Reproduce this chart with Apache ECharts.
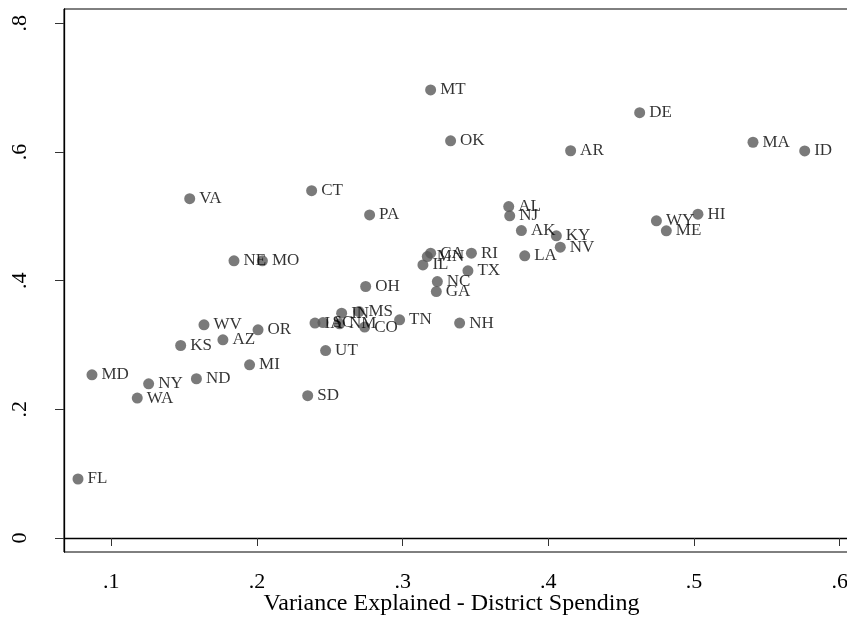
<!DOCTYPE html>
<html>
<head>
<meta charset="utf-8">
<script src="https://cdn.jsdelivr.net/npm/echarts@6/dist/echarts.min.js"></script>
<style>
  html, body { margin: 0; padding: 0; background: #fff; }
  #chart { width: 847px; height: 617px; }
</style>
</head>
<body>
<div id="chart"></div>
<script>
// state abbreviations and the values
const states = ['FL', 'MD', 'NY', 'WA', 'ND', 'MI', 'KS', 'AZ', 'WV', 'OR',
  'UT', 'SD', 'NE', 'MO', 'VA', 'CT', 'PA', 'OH', 'MT', 'OK',
  'DE', 'AR', 'MA', 'ID', 'HI', 'WY', 'ME', 'AL', 'NJ', 'AK',
  'KY', 'NV', 'LA', 'RI', 'CA', 'MN', 'IL', 'TX', 'NC', 'GA',
  'IA', 'SC', 'NM', 'IN', 'MS', 'CO', 'TN', 'NH']
const spending = [0.0771, 0.0867, 0.1256, 0.1178, 0.1584, 0.1949, 0.1476, 0.1766, 0.1636, 0.2007,
  0.2471, 0.2348, 0.1842, 0.2037, 0.1538, 0.2375, 0.2773, 0.2746, 0.3192, 0.3329,
  0.4627, 0.4153, 0.5405, 0.5760, 0.5027, 0.4742, 0.4810, 0.3728, 0.3735, 0.3815,
  0.4055, 0.4082, 0.3838, 0.3472, 0.3192, 0.3169, 0.3139, 0.3448, 0.3238, 0.3231,
  0.2398, 0.2453, 0.2567, 0.2581, 0.2700, 0.2739, 0.2979, 0.3391]
const yValues = [0.0917, 0.2537, 0.2397, 0.2175, 0.2475, 0.2692, 0.2992, 0.3080, 0.3313, 0.3236,
  0.2914, 0.2212, 0.4308, 0.4308, 0.5274, 0.5398, 0.5022, 0.3909, 0.6965, 0.6173,
  0.6611, 0.6019, 0.6151, 0.6016, 0.5033, 0.4929, 0.4774, 0.5151, 0.5007, 0.4778,
  0.4696, 0.4520, 0.4385, 0.4427, 0.4427, 0.4375, 0.4245, 0.4152, 0.3986, 0.3831,
  0.3340, 0.3349, 0.3329, 0.3495, 0.3520, 0.3278, 0.3391, 0.3340]
const xTicks = [0.1, 0.2, 0.3, 0.4, 0.5, 0.6]
const yTicks = [0, 0.2, 0.4, 0.6, 0.8]

const serif = 'Liberation Serif'
const fmt = (v) => (v === 0 ? '0' : v.toFixed(1).replace(/^0/, ''))

const chart = echarts.init(document.getElementById('chart'))
chart.setOption({
  animation: false,
  grid: {
    left: 64, top: 9, right: -10, bottom: 65,
    outerBoundsMode: 'none',
    containLabel: false,
    show: true, borderColor: '#000', borderWidth: 1
  },
  xAxis: {
    type: 'value',
    min: 0.0675,
    max: 0.6119,
    name: 'Variance Explained - District Spending',
    nameLocation: 'middle',
    nameGap: 40,
    nameMoveOverlap: false,
    nameTextStyle: { fontFamily: serif, fontSize: 24, color: '#000', padding: [0, 18, 0, 0] },
    splitLine: { show: false },
    axisLine: { lineStyle: { color: '#000', width: 1.3 } },
    axisTick: { customValues: xTicks, length: 8, lineStyle: { color: '#333' } },
    axisLabel: {
      customValues: xTicks, formatter: fmt, margin: 19,
      fontFamily: serif, fontSize: 22, color: '#000'
    }
  },
  yAxis: {
    type: 'value',
    min: -0.02175,
    max: 0.8222,
    splitLine: { show: false },
    axisLine: { lineStyle: { color: '#000', width: 1.3 } },
    axisTick: { customValues: yTicks, length: 9, lineStyle: { color: '#333' } },
    axisLabel: {
      customValues: yTicks, formatter: fmt, rotate: 90, margin: 33,
      fontFamily: serif, fontSize: 22, color: '#000'
    }
  },
  series: [{
    type: 'scatter',
    symbolSize: 11,
    itemStyle: { color: '#595959' },
    label: {
      show: true, position: 'right', distance: 4,
      formatter: '{b}', fontFamily: serif, fontSize: 17, color: '#000'
    },
    data: states.map((s, i) => ({ name: s, value: [spending[i], yValues[i]] }))
  }]
})
</script>
</body>
</html>
